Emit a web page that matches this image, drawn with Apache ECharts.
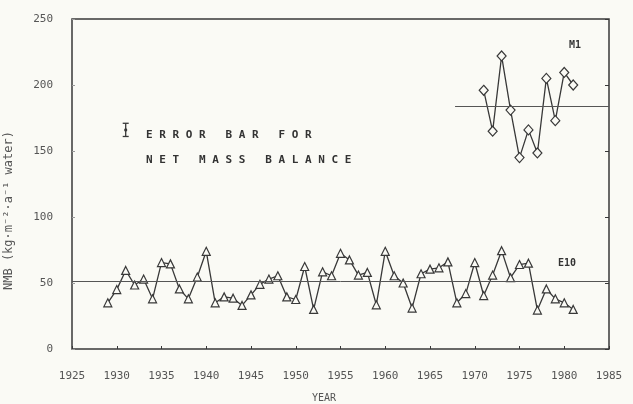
<!DOCTYPE html>
<html>
<head>
<meta charset="utf-8">
<script src="https://cdn.jsdelivr.net/npm/echarts@6/dist/echarts.min.js"></script>
<style>
  html, body { margin: 0; padding: 0; background: #fafaf5; }
  #chart { width: 633px; height: 404px; }
</style>
</head>
<body>
<div id="chart"></div>
<script>
// E10 net mass balance
var e10Years = [1929, 1930, 1931, 1932, 1933, 1934, 1935, 1936, 1937, 1938,
  1939, 1940, 1941, 1942, 1943, 1944, 1945, 1946, 1947, 1948,
  1949, 1950, 1951, 1952, 1953, 1954, 1955, 1956, 1957, 1958,
  1959, 1960, 1961, 1962, 1963, 1964, 1965, 1966, 1967, 1968,
  1969, 1970, 1971, 1972, 1973, 1974, 1975, 1976, 1977, 1978,
  1979, 1980, 1981];
var e10Values = [35, 45, 59.5, 48.5, 53, 38, 65.5, 64.5, 45.5, 38,
  54.5, 74, 35, 39.5, 38.5, 33, 41, 49, 53, 55.5,
  39.5, 37.5, 62.5, 30, 58.5, 55.5, 72.5, 67.5, 56, 58,
  33.5, 74, 55.5, 50, 31, 57, 60.5, 61.5, 66, 35,
  42, 65.5, 40.5, 56, 74.5, 54, 64, 65, 29.5, 45.5,
  38, 35, 30];

// M1 net mass balance
var m1Years = [1971, 1972, 1973, 1974, 1975, 1976, 1977, 1978, 1979, 1980, 1981];
var m1Values = [196, 165, 222, 181, 145, 166, 148.5, 205, 173, 209.5, 200];

// mean lines [x, y]
var e10MeanLine = [[1925, 51.5], [1985, 51.5]];
var m1MeanLine = [[1967.8, 184], [1985, 184]];

// error bar: x, low, high, centre
var errorBar = [[1931, 161, 171, 166]];

var ink = "#383838";
var mono = "DejaVu Sans Mono";

// spread letters like the plotter lettering
function spaced (s) {
  return s.split("").join(" ");
}

var chart = echarts.init(document.getElementById("chart"));

var option = {
  backgroundColor: "#fafaf5",
  animation: false,
  grid: {
    left: 72,
    right: 24,
    top: 19,
    bottom: 55,
    show: true,
    borderColor: ink,
    borderWidth: 1.5
  },
  xAxis: {
    type: "value",
    min: 1925,
    max: 1985,
    interval: 5,
    axisLine: { show: false },
    axisTick: { inside: true, length: 3, lineStyle: { color: ink, width: 1 } },
    splitLine: { show: false },
    axisLabel: {
      margin: 22,
      color: "#555",
      fontFamily: mono,
      fontSize: 11,
      formatter: function (v) { return String(v); }
    }
  },
  yAxis: [
    {
      type: "value",
      min: 0,
      max: 250,
      interval: 50,
      axisLine: { show: false },
      axisTick: { show: true, inside: true, length: 3, lineStyle: { color: "#999", width: 1 } },
      splitLine: { show: false },
      axisLabel: {
        margin: 19,
        color: "#555",
        fontFamily: mono,
        fontSize: 11
      }
    },
    {
      type: "value",
      position: "right",
      min: 0,
      max: 250,
      interval: 50,
      axisLine: { show: false },
      axisTick: { show: true, inside: true, length: 4, lineStyle: { color: ink, width: 1 } },
      splitLine: { show: false },
      axisLabel: { show: false }
    }
  ],
  series: [
    {
      name: "E10",
      type: "line",
      data: e10Years.map(function (y, i) { return [y, e10Values[i]]; }),
      symbol: "triangle",
      symbolSize: 8,
      lineStyle: { color: ink, width: 1.3 },
      itemStyle: { color: "#fafaf5", borderColor: ink, borderWidth: 1.2 },
      z: 3,
      markLine: {
        silent: true,
        symbol: "none",
        label: { show: false },
        lineStyle: { color: "#555", width: 1, type: "solid" },
        data: [[{ coord: e10MeanLine[0] }, { coord: e10MeanLine[1] }]]
      }
    },
    {
      name: "M1",
      type: "line",
      data: m1Years.map(function (y, i) { return [y, m1Values[i]]; }),
      symbol: "diamond",
      symbolSize: [9, 10],
      lineStyle: { color: ink, width: 1.3 },
      itemStyle: { color: "#fafaf5", borderColor: ink, borderWidth: 1.2 },
      z: 3,
      markLine: {
        silent: true,
        symbol: "none",
        label: { show: false },
        lineStyle: { color: "#555", width: 1, type: "solid" },
        data: [[{ coord: m1MeanLine[0] }, { coord: m1MeanLine[1] }]]
      }
    },
    {
      name: "error bar",
      type: "custom",
      data: errorBar,
      renderItem: function (params, api) {
        var lo = api.coord([api.value(0), api.value(1)]);
        var hi = api.coord([api.value(0), api.value(2)]);
        var mid = api.coord([api.value(0), api.value(3)]);
        var style = { stroke: ink, lineWidth: 1.3 };
        return {
          type: "group",
          children: [
            { type: "line", shape: { x1: lo[0], y1: lo[1], x2: hi[0], y2: hi[1] }, style: style },
            { type: "line", shape: { x1: lo[0] - 3, y1: lo[1], x2: lo[0] + 3, y2: lo[1] }, style: style },
            { type: "line", shape: { x1: hi[0] - 3, y1: hi[1], x2: hi[0] + 3, y2: hi[1] }, style: style },
            { type: "circle", shape: { cx: mid[0], cy: mid[1], r: 1.6 }, style: { fill: ink } }
          ]
        };
      }
    }
  ],
  graphic: [
    {
      type: "text",
      left: 146,
      top: 123,
      style: {
        text: spaced("ERROR BAR FOR") + "\n" + spaced("NET MASS BALANCE"),
        font: "bold 11px " + mono,
        fill: "#333",
        lineHeight: 25
      }
    },
    {
      type: "text",
      left: 569,
      top: 40,
      style: { text: "M1", font: "bold 10px " + mono, fill: "#333" }
    },
    {
      type: "text",
      left: 558,
      top: 258,
      style: { text: "E10", font: "bold 10px " + mono, fill: "#333" }
    },
    {
      type: "text",
      left: 312,
      top: 393,
      style: { text: "YEAR", font: "10px " + mono, fill: "#555" }
    },
    {
      type: "text",
      x: 9,
      y: 290,
      rotation: Math.PI / 2,
      style: {
        text: "NMB (kg·m⁻²·a⁻¹ water)",
        font: "12px " + mono,
        fill: "#555",
        verticalAlign: "middle"
      }
    }
  ]
};

chart.setOption(option);
</script>
</body>
</html>
